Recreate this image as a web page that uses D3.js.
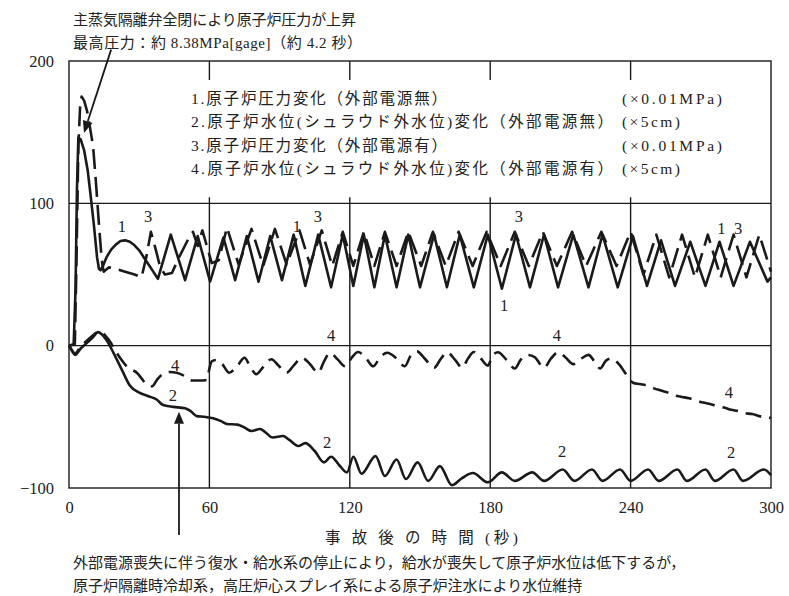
<!DOCTYPE html>
<html><head><meta charset="utf-8">
<script src="https://cdn.jsdelivr.net/npm/d3@7"></script>
<style>
html,body{margin:0;padding:0;background:#fff;}
svg{display:block;}
text{font-family:"Liberation Serif","Noto Sans CJK JP",serif;fill:#222;}
</style></head><body>
<svg id="chart" width="789" height="596"></svg>
<script>
// ---- data (time s, value) ----
const xTicks = [0, 60, 120, 180, 240, 300];
const yTicks = [-100, 0, 100, 200];

// 1. 原子炉圧力変化（外部電源無） solid
const pressureNoPower = [[0,0],[2,1],[2.8,40],[3.4,110],[4,146],[5,145],[6.5,137],[8,123],[9,109],[10.5,87],[12,62],[12.8,54],[13.5,53],[14.5,56],[16,62],[18,67.5],[20,71],[22,73.5],[24,74],[26,73],[28,70.5],[30,67],[32,62],[34,57],[36,52],[38,47],
[43.5,78],[49.6,46],[55,77],[60.3,45],[66,76],[71,46],[76,77],[81,45],[86,77],[91,46],[96,78],[101,42],[106.5,78],[112,41],[117,78],[121.5,42],[126,78],[130.5,41],[135,78],[140,41],[145,78],[150,41],[156,78],[161.5,41],[167,78],[173,41],[179,78],[185,40],[191,78],[197,41],[203,78],[209,41],[215.5,78],[222,41],[228,78],[234.5,41],[241,77],[247,42],[253,74],[259,42],[265.5,73],[272,42],[278,73],[284,42],[291,73],[298.5,45],[300,48]];

// 2. 原子炉水位（外部電源無） solid
const levelNoPower = [[0,0],[1,-3],[2.6,-6.5],[5,-2],[8,2.5],[10,5.5],[12.4,9.5],[14,8],[16,4],[19,-5],[22.6,-17],[26,-28],[30,-33],[34,-35.5],[37.6,-38],[40,-41.5],[44.6,-43],[49.6,-44],[52,-46],[54.6,-49.5],[58,-50],[61.6,-51],[65,-53],[67.5,-55],[72,-55.5],[75,-57.5],[78,-60],[81.6,-58.5],[84,-61],[87,-64.5],[91.5,-63.5],[94,-66],[98,-70.5],[101,-68.5],[105,-74],[109,-82],[112,-78],[115.5,-84],[118.8,-89],[121.5,-78],[125,-90],[131,-77.6],[135,-91.6],[140,-80],[144,-93.7],[149,-82],[153.5,-95],[158.5,-84.6],[163.6,-98],[168,-93],[172.6,-89.5],[179,-96],[185,-89],[190.5,-95],[198,-89],[203,-95],[211,-87],[216,-95],[223.5,-87],[228,-95],[235.5,-87],[240,-95],[247.5,-87],[252,-95],[260,-87],[264,-95],[272,-87],[276,-95],[284,-87],[288,-95],[297,-87],[300,-91]];

// 3. 原子炉圧力変化（外部電源有） dashed
const pressureWithPower = [[0,0],[2.5,1],[3.2,60],[4,140],[4.8,170],[5.4,175],[6.5,172],[7.7,165],[9,153],[10.3,140],[11.5,115],[12.8,85],[14,60],[14.8,52],[17,55],[20,54],[24,52],[28,50],[31,48],[33,62],[35,80],[37,68],[39,55],[41,50],[44,51],[47,62],[51,75],[53,80],[55,70],[57,81],[61,58],[64,60],[67.5,83],[72.5,57],[78,82],[83,56],[88,82],[93,57],[98.5,81],[103,57],[108,81],[112.5,56],[117,80],[121.5,56],[126,80],[130.5,56],[135,80],[140,56],[145,80],[150.5,56],[155.5,80],[161,56],[166.5,80],[172.5,56],[178.5,80],[184.5,56],[190.5,80],[196.5,56],[202.5,80],[208.5,56],[215,80],[221,56],[227.5,80],[234,56],[240,80],[245.5,50],[251,78],[256.5,48],[262,78],[267.5,48],[273,78],[278.5,48],[284,78],[289.5,48],[295,78],[300,52]];

// 4. 原子炉水位（外部電源有） dashed
const levelWithPower = [[0,0],[1,-2.5],[2.6,-5.5],[5,-0.5],[8,4],[10,7],[12.4,9.5],[14,9.5],[16,6],[17.5,3],[20,-4],[22,-9],[24.7,-14.6],[27,-17],[29,-19],[31,-23],[33,-27],[35.5,-28.6],[37.6,-24],[40,-20],[43,-18.5],[46,-19],[49,-21],[52.5,-24.5],[56,-24.5],[59,-24],[60,-16],[61,-11],[63,-10],[65.5,-13],[68.5,-19],[72,-14],[75,-8.5],[77.5,-15],[80,-20],[83,-15],[86.5,-9.5],[89.5,-14],[93,-19],[96,-14],[99.5,-8.5],[103,-13],[106.5,-19],[109,-11],[111.5,-5],[115,-10],[118,-14.5],[121,-8],[123.5,-4.5],[127,-9],[130,-14.5],[133,-8],[136,-5],[140,-9],[143.5,-14.5],[146,-7],[148.7,-4],[152,-9],[156,-15.5],[159,-9],[161.5,-4.6],[165,-10],[168,-15.5],[170.5,-9],[173,-4.5],[176,-9],[179,-14],[181,-7],[183.3,-4.6],[187,-10],[190.5,-16],[193,-10],[196,-6.5],[199,-8],[203,-15.5],[206,-9],[209,-4.6],[212,-8],[215.5,-13],[219,-9],[222,-6.5],[224.5,-11],[227,-16],[229.5,-10.5],[232,-9],[235,-13],[238.5,-21],[241,-26],[244,-27],[247,-28],[250,-30],[253,-31.5],[256,-33],[259,-35],[262,-36],[265,-37],[268,-38.5],[271,-40],[274,-41],[277,-42.5],[280,-43.5],[283,-45],[286,-46],[289,-47.5],[292,-48],[295,-49.5],[298,-50],[300,-51]];

const legendItems = ["1.原子炉圧力変化（外部電源無）","2.原子炉水位(シュラウド外水位)変化（外部電源無）","3.原子炉圧力変化（外部電源有）","4.原子炉水位(シュラウド外水位)変化（外部電源有）"];
const legendUnits = ["(×0.01MPa)","(×5cm)","(×0.01MPa)","(×5cm)"];

// curve number labels [t, v, text]
const curveLabels = [[22.6,83.4,"1"],[33.8,90.5,"3"],[97.4,83.4,"1"],[106.4,90.5,"3"],[192.3,90.5,"3"],[185.9,28.5,"1"],[278.8,82,"1"],[285.9,82,"3"],
[45.3,-14,"4"],[44.4,-35.3,"2"],[112,6.8,"4"],[208.5,6.8,"4"],[282,-33,"4"],[110.3,-68,"2"],[210.7,-74.5,"2"],[283,-75,"2"]];

const topNote = ["主蒸気隔離弁全閉により原子炉圧力が上昇","最高圧力：約 8.38MPa[gage]（約 4.2 秒）"];
const bottomNote = ["外部電源喪失に伴う復水・給水系の停止により，給水が喪失して原子炉水位は低下するが，","原子炉隔離時冷却系，高圧炉心スプレイ系による原子炉注水により水位維持"];
const xTitle = "事 故 後 の 時 間 (秒)";

// ---- drawing ----
const svg = d3.select("#chart");
const x = d3.scaleLinear().domain([0,300]).range([69,771]);
const y = d3.scaleLinear().domain([-100,200]).range([488,61]);
const ink = "#1a1a1a";

// grid
const grid = svg.append("g").attr("stroke", ink).attr("stroke-width", 1.4).attr("fill","none");
[0,100].forEach(v => grid.append("line").attr("x1", x(0)).attr("x2", x(300)).attr("y1", y(v)).attr("y2", y(v)));
[60,120,180,240].forEach(t => {
  grid.append("line").attr("x1", x(t)).attr("x2", x(t)).attr("y1", y(100)-6).attr("y2", y(-100));
  grid.append("line").attr("x1", x(t)).attr("x2", x(t)).attr("y1", y(200)).attr("y2", y(200)+19);
});
grid.append("rect").attr("x", x(0)).attr("y", y(200)).attr("width", x(300)-x(0)).attr("height", y(-100)-y(200));

// axes
const ya = svg.append("g").attr("transform", `translate(${x(0)},0)`)
  .call(d3.axisLeft(y).tickValues(yTicks).tickSize(0).tickPadding(15).tickFormat(d3.format("d")));
const xa = svg.append("g").attr("transform", `translate(0,${y(-100)})`)
  .call(d3.axisBottom(x).tickValues(xTicks).tickSize(0).tickPadding(13));
[ya, xa].forEach(g => {
  g.select(".domain").remove();
  g.attr("font-family", null).attr("font-size", 16.5);
  g.selectAll("text").attr("fill", "#333");
});

// lines
const lineLin = d3.line().x(d => x(d[0])).y(d => y(d[1]));
const lineSmooth = d3.line().x(d => x(d[0])).y(d => y(d[1])).curve(d3.curveMonotoneX);
const series = [
  {data: pressureNoPower, gen: lineLin, dash: null},
  {data: levelNoPower, gen: lineSmooth, dash: null},
  {data: pressureWithPower, gen: lineLin, dash: "20,8"},
  {data: levelWithPower, gen: lineSmooth, dash: "16,8"}
];
svg.append("g").selectAll("path").data(series).join("path")
  .attr("d", s => s.gen(s.data))
  .attr("fill", "none").attr("stroke", ink).attr("stroke-width", 2.6)
  .attr("stroke-linejoin", "round")
  .attr("stroke-dasharray", s => s.dash);

// curve labels
svg.append("g").selectAll("text").data(curveLabels).join("text")
  .attr("x", d => x(d[0])).attr("y", d => y(d[1]))
  .attr("text-anchor", "middle").attr("dominant-baseline", "central")
  .attr("font-size", 16.5).attr("fill", "#444").text(d => d[2]);

// legend
const lg = svg.append("g");
const legendLens = [256, 422, 256, 422];
const unitLens = [100, 58, 100, 58];
legendItems.forEach((s, i) => {
  lg.append("text").attr("x", 191).attr("y", 98 + i*23.5).attr("dominant-baseline","central")
    .attr("font-size", 15.5).attr("textLength", legendLens[i]).attr("lengthAdjust","spacing").text(s);
  lg.append("text").attr("x", 622).attr("y", 98 + i*23.5).attr("dominant-baseline","central")
    .attr("font-size", 15.5).attr("textLength", unitLens[i]).attr("lengthAdjust","spacing").text(legendUnits[i]);
});

// annotations
const topLens = [283, 289];
topNote.forEach((s, i) => svg.append("text").attr("x", 73).attr("y", 20 + i*23)
  .attr("dominant-baseline","central").attr("font-size", 15)
  .attr("textLength", topLens[i]).attr("lengthAdjust","spacing").text(s));
bottomNote.forEach((s, i) => svg.append("text").attr("x", 73).attr("y", 563 + i*23)
  .attr("dominant-baseline","central").attr("font-size", 15).text(s));
svg.append("text").attr("x", 325).attr("y", 537)
  .attr("dominant-baseline","central").attr("font-size", 15.5)
  .attr("textLength", 193).attr("lengthAdjust","spacing").text(xTitle);

function arrow(x1, y1, x2, y2) {
  const ang = Math.atan2(y2 - y1, x2 - x1), L = 12, Wd = 5;
  const bx = x2 - L*Math.cos(ang), by = y2 - L*Math.sin(ang);
  svg.append("line").attr("x1", x1).attr("y1", y1).attr("x2", bx).attr("y2", by)
    .attr("stroke", ink).attr("stroke-width", 1.8);
  const px = -Math.sin(ang)*Wd, py = Math.cos(ang)*Wd;
  svg.append("path").attr("d", `M${x2},${y2}L${bx+px},${by+py}L${bx-px},${by-py}Z`).attr("fill", ink);
}
arrow(x(18), y(208), x(6.4), y(149.5));
arrow(x(47), y(-133), x(47), y(-46.5));
</script>
</body></html>
